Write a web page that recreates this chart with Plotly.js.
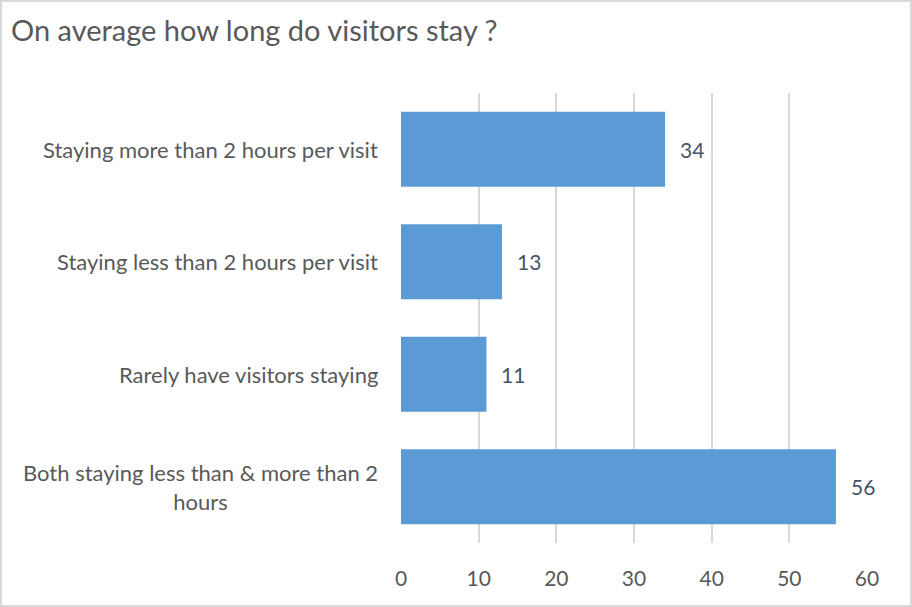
<!DOCTYPE html>
<html>
<head>
<meta charset="utf-8">
<script src="https://cdn.plot.ly/plotly-3.0.1.min.js"></script>
<style>
html,body{margin:0;padding:0;background:#fff;}
#wrap{position:relative;width:912px;height:607px;}
#chart{width:912px;height:607px;}
#frame{position:absolute;left:0;top:0;width:912px;height:607px;box-sizing:border-box;border:2px solid #d9d9d9;pointer-events:none;}
</style>
</head>
<body>
<div id="wrap"><div id="chart"></div><div id="frame"></div></div>
<script>
const titleText = "On average how long do visitors stay ?";
const categories = [
  "Staying more than 2 hours per visit",
  "Staying less than 2 hours per visit",
  "Rarely have visitors staying",
  "Both staying less than & more than 2<br>hours"
];
const values = [34, 13, 11, 56];
const tickVals = [0, 10, 20, 30, 40, 50, 60];

const FONT = "Lato, 'Open Sans', sans-serif";
const TXT = "#595959";

const trace = {
  type: "bar",
  orientation: "h",
  x: values,
  y: categories,
  marker: {color: "#5B9BD5"},
  hoverinfo: "skip"
};

const annotations = [];
categories.forEach((c, i) => {
  annotations.push({
    xref: "paper", yref: "y", x: 0, y: c, xanchor: "right", yanchor: "middle",
    xshift: -21, text: c, showarrow: false, align: "center",
    font: {family: FONT, size: 22, color: TXT}
  });
  annotations.push({
    xref: "x", yref: "y", x: values[i], y: c, xanchor: "left", yanchor: "middle",
    xshift: 13, text: String(values[i]), showarrow: false,
    font: {family: FONT, size: 21, color: "#44546A"}
  });
});

const layout = {
  width: 912, height: 607,
  margin: {l: 401, r: 45, t: 93, b: 64},
  paper_bgcolor: "#fff", plot_bgcolor: "#fff",
  title: {
    text: titleText, x: 11/912, xanchor: "left", xref: "container",
    y: 1 - 31/607, yanchor: "middle", yref: "container",
    font: {family: FONT, size: 29, color: TXT}
  },
  bargap: 0.333,
  showlegend: false,
  xaxis: {
    range: [0, 60], tickvals: tickVals, ticktext: tickVals.map(String),
    showgrid: true, gridcolor: "#d9d9d9", gridwidth: 2,
    zeroline: false, showline: false, ticks: "",
    ticklabelstandoff: 21,
    tickfont: {family: FONT, size: 21, color: TXT},
    fixedrange: true
  },
  yaxis: {
    autorange: "reversed", showticklabels: false, showgrid: false,
    zeroline: false, showline: false, ticks: "", fixedrange: true
  },
  annotations: annotations
};

Plotly.newPlot("chart", [trace], layout, {displayModeBar: false, staticPlot: true});
</script>
</body>
</html>
